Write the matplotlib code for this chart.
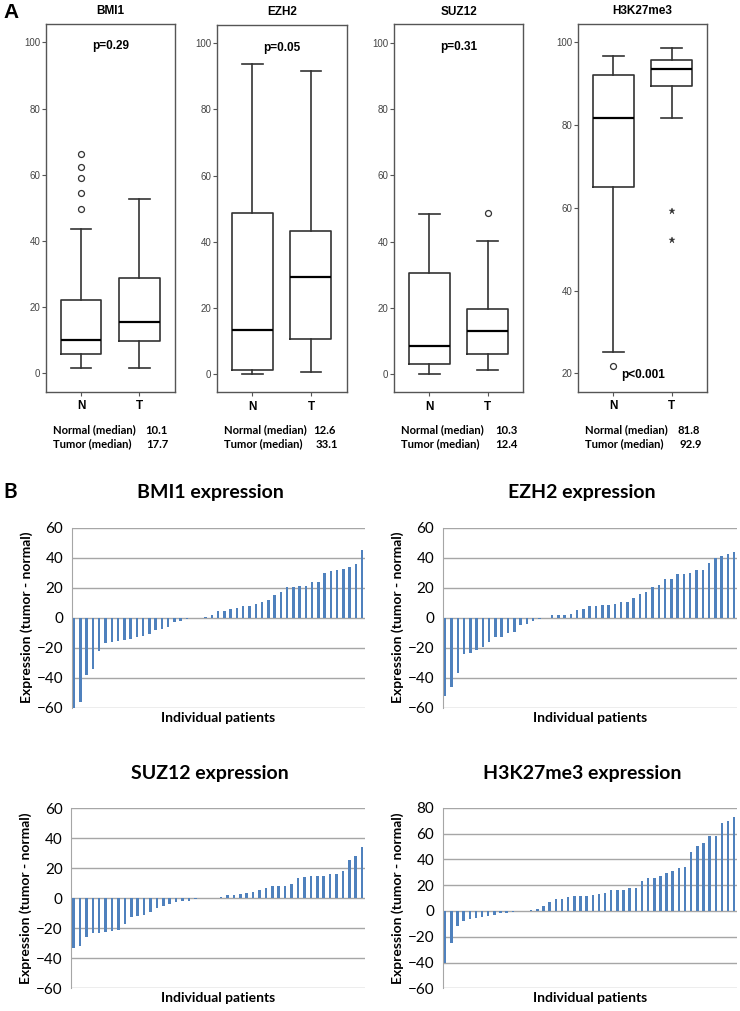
import numpy as np
import matplotlib.pyplot as plt

W, H = 740, 1011

# ---- panel A: box plot summaries ----
genes = ["BMI1", "EZH2", "SUZ12", "H3K27me3"]
pvals = ["p=0.29", "p=0.05", "p=0.31", "p<0.001"]
# [whislo, q1, med, q3, whishi] for N and T
box_n = [
    [1.7, 5.9, 10.1, 22.2, 43.5],
    [0.0, 1.2, 13.3, 48.8, 93.8],
    [0.2, 3.0, 8.7, 30.5, 48.2],
    [25.1, 65.0, 81.8, 92.1, 96.6],
]
box_t = [
    [1.7, 9.8, 15.5, 28.7, 52.6],
    [0.8, 10.8, 29.4, 43.2, 91.5],
    [1.2, 6.1, 13.1, 19.8, 40.3],
    [81.6, 89.4, 93.5, 95.7, 98.5],
]
outliers_n = [[66.3, 62.2, 59.1, 54.4, 49.5], [], [], [21.9]]
outliers_t = [[], [], [48.7], []]
extremes_t = [[], [], [], [59.2, 52.2]]
median_normal = ["10.1", "12.6", "10.3", "81.8"]
median_tumor = ["17.7", "33.1", "12.4", "92.9"]
box_ylims = [(-5.6, 105.7), (-5.4, 105.5), (-5.4, 105.5), (15.6, 104.4)]
box_yticks = [[0, 20, 40, 60, 80, 100]] * 3 + [[20, 40, 60, 80, 100]]

# ---- panel B: tumor - normal per patient, sorted ----
bmi1_diff = [-61, -56, -38.5, -34, -22, -17, -16, -15.5, -15, -14.5, -13, -12.5,
             -11, -8, -7.5, -6.5, -3, -2.5, -1, -0.5, 0, 0.5, 2, 4.5, 4.5, 6,
             6.5, 7.5, 8, 9, 10.5, 12, 15, 17, 20.5, 20.5, 21, 21, 23.5, 24,
             29.5, 31, 32, 32.5, 33.5, 36, 45]
ezh2_diff = [-52, -46, -37, -24, -23.5, -21.5, -19.5, -16.5, -13, -13, -10.5,
             -9.5, -5, -4, -2, -1, 0, 1.5, 1.5, 2, 2.5, 5, 6, 7.5, 8, 8.5, 8.5,
             9, 10.5, 10.5, 13, 15.5, 17, 20.5, 21.5, 25.5, 26, 29, 29, 30, 32,
             32, 36.5, 40, 41, 42.5, 43.5]
suz12_diff = [-33, -32, -25.5, -23, -23, -22.5, -21.5, -21, -17, -12.5, -11.5,
              -11, -9, -6.5, -5, -4, -2.5, -1.5, -1.5, -0.5, 0, 0, 0.5, 1, 2,
              2, 3, 3.5, 4.5, 5.5, 7, 8, 8.5, 8.5, 9.5, 13.5, 14, 15, 15, 15,
              16.5, 16.5, 18, 25.5, 28.5, 34]
h3k_diff = [-40, -25, -12, -8, -6, -5.5, -5, -4, -3, -2, -1.5, -1, 0, 0, 0.5,
            1.5, 4, 7, 9.5, 9.5, 10.5, 11.5, 11.5, 11.5, 12.5, 13, 14, 16,
            16.5, 16.5, 17.5, 17.5, 23.5, 25.5, 25.5, 27, 29, 31, 33, 34, 45.5,
            50, 53, 58, 58, 68.5, 69.5, 72.5]
bar_titles = ["BMI1 expression", "EZH2 expression", "SUZ12 expression",
              "H3K27me3 expression"]
bar_ylims = [(-60, 60), (-60, 60), (-60, 60), (-60, 80)]

fig = plt.figure(figsize=(W / 100, H / 100), dpi=100)
fig.patch.set_facecolor("white")


def ax_px(x0, y0, x1, y1):
    return fig.add_axes([x0 / W, 1 - y1 / H, (x1 - x0) / W, (y1 - y0) / H])


def ftext(x, y, s, **kw):
    fig.text(x / W, 1 - y / H, s, **kw)


arial = "Liberation Sans"
calibri = ["Lato", "DejaVu Sans"]

# ---------------- A ----------------
frames = [(45.7, 23.5, 175, 391.7), (217, 25, 346.7, 392.3),
          (394, 24.3, 523.3, 392.3), (578, 24, 707.3, 391.7)]
normal_off = [100, 96, 101, 99]
tumor_off = [101, 99, 101, 102]
ftext(3, 12, "A", fontsize=15, fontweight="bold", family=arial, va="center")

for i, g in enumerate(genes):
    x0, y0, x1, y1 = frames[i]
    ax = ax_px(x0, y0, x1, y1)
    stats = []
    for vals, fl in ((box_n[i], outliers_n[i]), (box_t[i], outliers_t[i])):
        lo, q1, med, q3, hi = vals
        stats.append(dict(whislo=lo, q1=q1, med=med, q3=q3, whishi=hi, fliers=fl))
    ax.bxp(stats, positions=[1, 2], widths=0.7, showfliers=True,
           boxprops=dict(color="#333333", lw=1.2),
           whiskerprops=dict(color="#333333", lw=1.2),
           capprops=dict(color="#333333", lw=1.2),
           medianprops=dict(color="black", lw=1.6),
           flierprops=dict(marker="o", markersize=4.3, markerfacecolor="white",
                           markeredgecolor="#333333", markeredgewidth=0.9))
    if extremes_t[i]:
        ax.plot([2] * len(extremes_t[i]), extremes_t[i], ls="none", marker="*",
                markersize=5, color="#333333", markeredgewidth=0.3)
    ax.set_xlim(0.395, 2.61)
    ax.set_ylim(*box_ylims[i])
    ax.set_yticks(box_yticks[i])
    ax.set_xticks([1, 2])
    ax.set_xticklabels(["N", "T"], fontsize=8.5, fontweight="bold", family=arial)
    ax.tick_params(axis="y", labelsize=7, labelcolor="#444444", length=3,
                   color="#555555", pad=1)
    for lab in ax.get_yticklabels():
        lab.set_family(arial)
    ax.tick_params(axis="x", length=3, color="#555555", pad=3)
    for sp in ax.spines.values():
        sp.set_color("#555555")
        sp.set_linewidth(1.0)
    ax.set_title(g, fontsize=8.5, fontweight="bold", family=arial, pad=7)
    if i == 3:
        ax.text(0.5, 0.03, pvals[i], transform=ax.transAxes, ha="center",
                va="bottom", fontsize=8.5, fontweight="bold", family=arial)
    else:
        ax.text(0.5, 0.955, pvals[i], transform=ax.transAxes, ha="center",
                va="top", fontsize=8.5, fontweight="bold", family=arial)

    # medians below
    ftext(x0 + 7, 430, "Normal (median)", fontsize=8.1, fontweight="bold",
          family=calibri, va="center")
    ftext(x0 + 7, 444, "Tumor (median)", fontsize=8.1, fontweight="bold",
          family=calibri, va="center")
    ftext(x0 + normal_off[i], 430, median_normal[i], fontsize=8.1,
          fontweight="bold", family=calibri, va="center")
    ftext(x0 + tumor_off[i], 444, median_tumor[i], fontsize=8.1,
          fontweight="bold", family=calibri, va="center")

# ---------------- B ----------------
ftext(3, 492, "B", fontsize=15, fontweight="bold", family=calibri, va="center")
bar_data = [bmi1_diff, ezh2_diff, suz12_diff, h3k_diff]
bar_boxes = [(71.7, 527.7, 365, 707.7), (442.7, 527.7, 737, 707.7),
             (71, 808.3, 365, 988.3), (442.7, 807.7, 737, 988.3)]
title_y = [493, 493, 774, 774]

for i, d in enumerate(bar_data):
    x0, y0, x1, y1 = bar_boxes[i]
    ax = ax_px(x0, y0, x1, y1)
    xs = np.arange(len(d))
    ax.bar(xs, d, width=0.4, color="#4F81BD", zorder=3)
    ax.set_xlim(-0.4, len(d) - 0.55)
    lo, hi = bar_ylims[i]
    ax.set_ylim(lo, hi)
    ax.set_yticks(np.arange(lo, hi + 1, 20))
    ax.yaxis.grid(True, color="#a6a6a6", lw=1.0, zorder=0)
    ax.set_xticks([])
    for s in ("top", "right", "bottom"):
        ax.spines[s].set_visible(False)
    ax.spines["left"].set_color("#a6a6a6")
    ax.tick_params(axis="y", length=0, labelsize=11, pad=6)
    for lab in ax.get_yticklabels():
        lab.set_family(calibri)
    ax.set_ylabel("Expression (tumor - normal)", fontsize=10, fontweight="bold",
                  family=calibri, labelpad=3)
    ax.set_xlabel("Individual patients", fontsize=10, fontweight="bold",
                  family=calibri, labelpad=3)
    cx = (x0 + x1) / 2 - 8
    ftext(cx, title_y[i], bar_titles[i], fontsize=14, fontweight="bold",
          family=calibri, ha="center", va="center")

fig.savefig("out.png", dpi=100)
